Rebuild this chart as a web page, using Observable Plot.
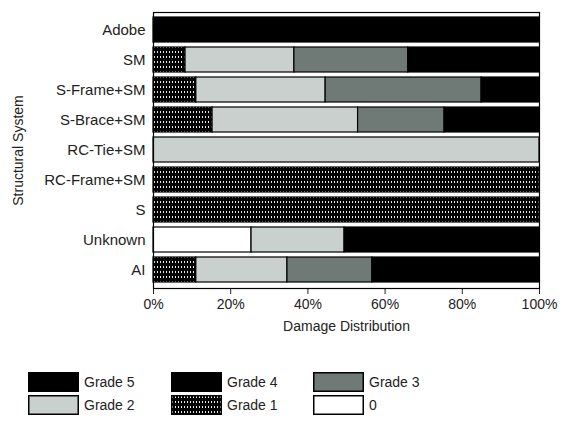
<!DOCTYPE html>
<html>
<head>
<meta charset="utf-8">
<script src="https://cdn.jsdelivr.net/npm/d3@7"></script>
<script src="https://cdn.jsdelivr.net/npm/@observablehq/plot@0.6"></script>
<style>
  body { margin: 0; background: #fff; font-family: "Liberation Sans", Arial, sans-serif; }
  #chart { position: relative; width: 563px; height: 432px; }
  .legend { position: absolute; left: 0; top: 372px; width: 563px; }
  .item { position: absolute; display: flex; align-items: center; font-size: 14px; color: #222; }
  .item svg { margin-right: 5px; }
  #chart > svg g[aria-label="y-axis tick label"] text { font-size: 15px; }
</style>
</head>
<body>
<div id="chart"></div>
<script>
const systems = ["Adobe", "SM", "S-Frame+SM", "S-Brace+SM", "RC-Tie+SM", "RC-Frame+SM", "S", "Unknown", "AI"];
const grades = ["0", "Grade 1", "Grade 2", "Grade 3", "Grade 4", "Grade 5"];
const grade0 = [0, 0, 0, 0, 0, 0, 0, 25.4, 0];
const grade1 = [0, 8.3, 11.1, 15.3, 0, 100, 100, 0, 11.1];
const grade2 = [0, 28.2, 33.5, 37.7, 100, 0, 0, 24.1, 23.6];
const grade3 = [0, 29.5, 40.4, 22.4, 0, 0, 0, 0, 22.0];
const grade4 = [0, 0, 0, 0, 0, 0, 0, 0, 0];
const grade5 = [100, 34.0, 15.0, 24.6, 0, 0, 0, 50.5, 43.3];
const xTicks = [0, 20, 40, 60, 80, 100];
const legendOrder = ["Grade 5", "Grade 4", "Grade 3", "Grade 2", "Grade 1", "0"];
const fills = {"0": "#ffffff", "Grade 1": "url(#g1pat)", "Grade 2": "#c9d0ce", "Grade 3": "#6f7976", "Grade 4": "#000000", "Grade 5": "#000000"};

const series = [grade0, grade1, grade2, grade3, grade4, grade5];
const data = [];
systems.forEach((s, i) => grades.forEach((g, j) => data.push({system: s, grade: g, value: series[j][i]})));

const svg = Plot.plot({
  width: 563,
  height: 345,
  marginLeft: 153,
  marginRight: 24,
  marginTop: 12,
  marginBottom: 57,
  style: {fontFamily: "Liberation Sans, Arial, sans-serif", fontSize: "14px", color: "#222", background: "#fff"},
  x: {domain: [0, 100], ticks: xTicks, tickFormat: d => d + "%", label: "Damage Distribution", labelArrow: "none", labelAnchor: "center", labelOffset: 42, tickSize: 6, tickPadding: 5},
  y: {domain: systems, label: "Structural System", labelArrow: "none", labelAnchor: "center", labelOffset: 140, tickSize: 0, tickPadding: 8, paddingInner: 0.16, paddingOuter: 0.06},
  color: {domain: grades, range: grades.map(g => fills[g])},
  marks: [
    Plot.barX(data, Plot.stackX({x: "value", y: "system", fill: "grade", order: grades, stroke: "#000", strokeWidth: 1.2})),
    Plot.frame({stroke: "#000", strokeWidth: 1.2})
  ]
});

const defs = d3.select(svg).insert("defs", ":first-child");
const pat = defs.append("pattern").attr("id", "g1pat").attr("patternUnits", "userSpaceOnUse").attr("width", 6).attr("height", 5);
pat.append("rect").attr("width", 6).attr("height", 5).attr("fill", "#000");
pat.append("rect").attr("x", 1).attr("y", 1).attr("width", 1).attr("height", 2).attr("fill", "#e8e8e8");
pat.append("rect").attr("x", 4).attr("y", 1).attr("width", 1).attr("height", 2).attr("fill", "#e8e8e8");

// strip any arrow left on axis labels
d3.select(svg).selectAll("text").each(function() {
  const t = this.textContent;
  if (t.includes("→") || t.includes("↑")) this.textContent = t.replace(/\s*[→↑]\s*/g, "");
});

const chart = document.getElementById("chart");
chart.appendChild(svg);

const legend = document.createElement("div");
legend.className = "legend";
const cols = [28, 171, 313];
legendOrder.forEach((g, i) => {
  const item = document.createElement("div");
  item.className = "item";
  item.style.left = cols[i % 3] + "px";
  item.style.top = (Math.floor(i / 3) * 23) + "px";
  const sw = d3.create("svg").attr("width", 51).attr("height", 20);
  sw.append("rect").attr("x", 0.75).attr("y", 0.75).attr("width", 49.5).attr("height", 18.5)
    .attr("fill", fills[g]).attr("stroke", "#000").attr("stroke-width", 1.5);
  item.appendChild(sw.node());
  const t = document.createElement("span");
  t.textContent = g;
  item.appendChild(t);
  legend.appendChild(item);
});
chart.appendChild(legend);
</script>
</body>
</html>
